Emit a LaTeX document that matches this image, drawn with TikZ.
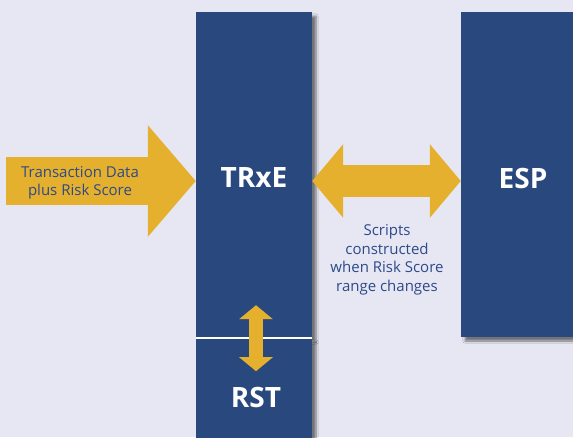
\documentclass[tikz,border=0pt]{standalone}
\usepackage{fontspec}
\setmainfont{Open Sans}
\usetikzlibrary{arrows.meta,shadows.blur}
\definecolor{navy}{RGB}{40,72,126}
\definecolor{gold}{RGB}{229,176,46}
\definecolor{paper}{RGB}{231,231,243}
\definecolor{ink}{RGB}{45,74,136}

\begin{document}
\begin{tikzpicture}
[x=1pt,y=-1pt,
col/.style={rectangle,fill=navy,inner sep=0pt,blur shadow={shadow xshift=4pt,shadow yshift=-4pt,shadow opacity=50,shadow blur steps=6}},
title/.style={text=white,font=\bfseries\fontsize{28}{32}\selectfont},
note/.style={text=ink,align=center,font=\fontsize{15}{18.5}\selectfont},
fat/.style={draw=gold,line width=#1}]
\fill[paper] (0,0) rectangle (573,437);
\useasboundingbox (0,0) rectangle (573,437);
% columns
\node[col,minimum width=116pt,minimum height=326pt] (trxe) at (254,175) {};
\node[col,minimum width=116pt,minimum height=110pt] (rst) at (254,393) {};
\node[col,minimum width=124pt,minimum height=325pt] (esp) at (523,174.5) {};
\draw[white,line width=2pt] (trxe.south west) -- (trxe.south east);
\node[title] (trxe-t) at (254,178) {TRxE};
\node[title] (rst-t) at (256,397) {RST};
\node[title] (esp-t) at (523,178) {ESP};
% arrows
\coordinate (feed) at (6,181);
\draw[fat=48pt,-{Triangle[length=48pt,width=109pt]}] (feed) -- (trxe.west |- feed);
\draw[fat=32pt,{Triangle[length=31pt,width=72pt]}-{Triangle[length=31pt,width=72pt]}] (trxe.east |- feed) -- (esp.west |- feed);
\draw[fat=14pt,{Triangle[length=14pt,width=33pt]}-{Triangle[length=14pt,width=33pt]}] ([xshift=2pt,yshift=33pt]trxe.south) -- ([xshift=2pt,yshift=-33pt]trxe.south);
\node[note] (feed-t) at (80,183) {Transaction Data\\plus Risk Score};
\node[note,anchor=north] (scripts) at (387,221) {Scripts\\constructed\\when Risk Score\\range changes};
\end{tikzpicture}
\end{document}
